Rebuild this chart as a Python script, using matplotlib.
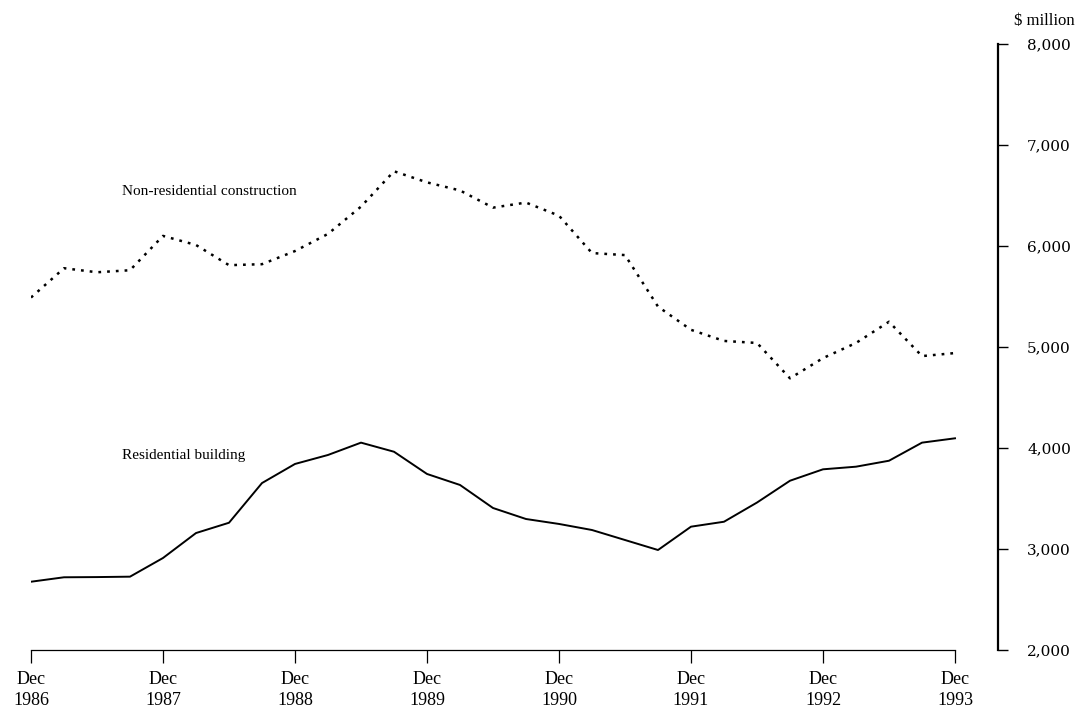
import numpy as np
import matplotlib
matplotlib.use('Agg')
import matplotlib.pyplot as plt

# quarterly values, Dec 1986 .. Dec 1993 ($ million)
quarters = ['Dec 1986', 'Mar 1987', 'Jun 1987', 'Sep 1987',
            'Dec 1987', 'Mar 1988', 'Jun 1988', 'Sep 1988',
            'Dec 1988', 'Mar 1989', 'Jun 1989', 'Sep 1989',
            'Dec 1989', 'Mar 1990', 'Jun 1990', 'Sep 1990',
            'Dec 1990', 'Mar 1991', 'Jun 1991', 'Sep 1991',
            'Dec 1991', 'Mar 1992', 'Jun 1992', 'Sep 1992',
            'Dec 1992', 'Mar 1993', 'Jun 1993', 'Sep 1993',
            'Dec 1993']
non_residential = [5490, 5780, 5740, 5760, 6100, 6010, 5810, 5820,
                   5950, 6120, 6390, 6740, 6630, 6550, 6380, 6430,
                   6300, 5930, 5910, 5400, 5170, 5060, 5040, 4690,
                   4890, 5040, 5250, 4910, 4940]
residential = [2676, 2720, 2722, 2726, 2911, 3158, 3260, 3653,
               3842, 3931, 4053, 3963, 3743, 3634, 3406, 3297,
               3248, 3188, 3089, 2990, 3221, 3270, 3460, 3676,
               3789, 3815, 3874, 4053, 4096]
y_ticks = [2000, 3000, 4000, 5000, 6000, 7000, 8000]

serif = ['Liberation Serif', 'DejaVu Serif']
plt.rcParams['font.family'] = serif

x = np.arange(len(quarters))
dec_idx = [i for i, q in enumerate(quarters) if q.startswith('Dec')]
dec_labels = [quarters[i].replace(' ', '\n') for i in dec_idx]

fig = plt.figure(figsize=(10.88, 7.2), dpi=100)
ax = fig.add_axes([31/1088, 1 - 650/720, (998 - 31)/1088, (650 - 44)/720])

ax.plot(x, non_residential, color='black', lw=1.8, linestyle=(0, (1.1, 2.4)),
        dash_capstyle='butt')
ax.plot(x, residential, color='black', lw=1.4)

ax.text(2.76, 6535, 'Non-residential construction', fontsize=11,
        va='center', ha='left')
ax.text(2.76, 3930, 'Residential building', fontsize=11,
        va='center', ha='left')

ax.set_xlim(0, (998 - 31)/33)
ax.set_ylim(2000, 8000)

ax.spines['top'].set_visible(False)
ax.spines['left'].set_visible(False)
ax.spines['bottom'].set_bounds(0, len(quarters) - 1)
ax.spines['bottom'].set_linewidth(0.9)
ax.spines['right'].set_linewidth(1.6)

ax.yaxis.tick_right()
ax.set_yticks(y_ticks)
ax.set_yticklabels([f'{v:,}' for v in y_ticks], family=['DejaVu Serif'],
                   fontsize=11)
ax.tick_params(axis='y', direction='out', length=7, width=1, pad=14)

ax.set_xticks(dec_idx)
ax.set_xticklabels(dec_labels, fontsize=13, linespacing=1.3)
ax.tick_params(axis='x', direction='out', length=9, width=0.9, pad=6)

fig.text(1044/1088, 1 - 21/720, '$ million', fontsize=12, ha='center',
         va='center')

fig.savefig('out.png', dpi=100)
